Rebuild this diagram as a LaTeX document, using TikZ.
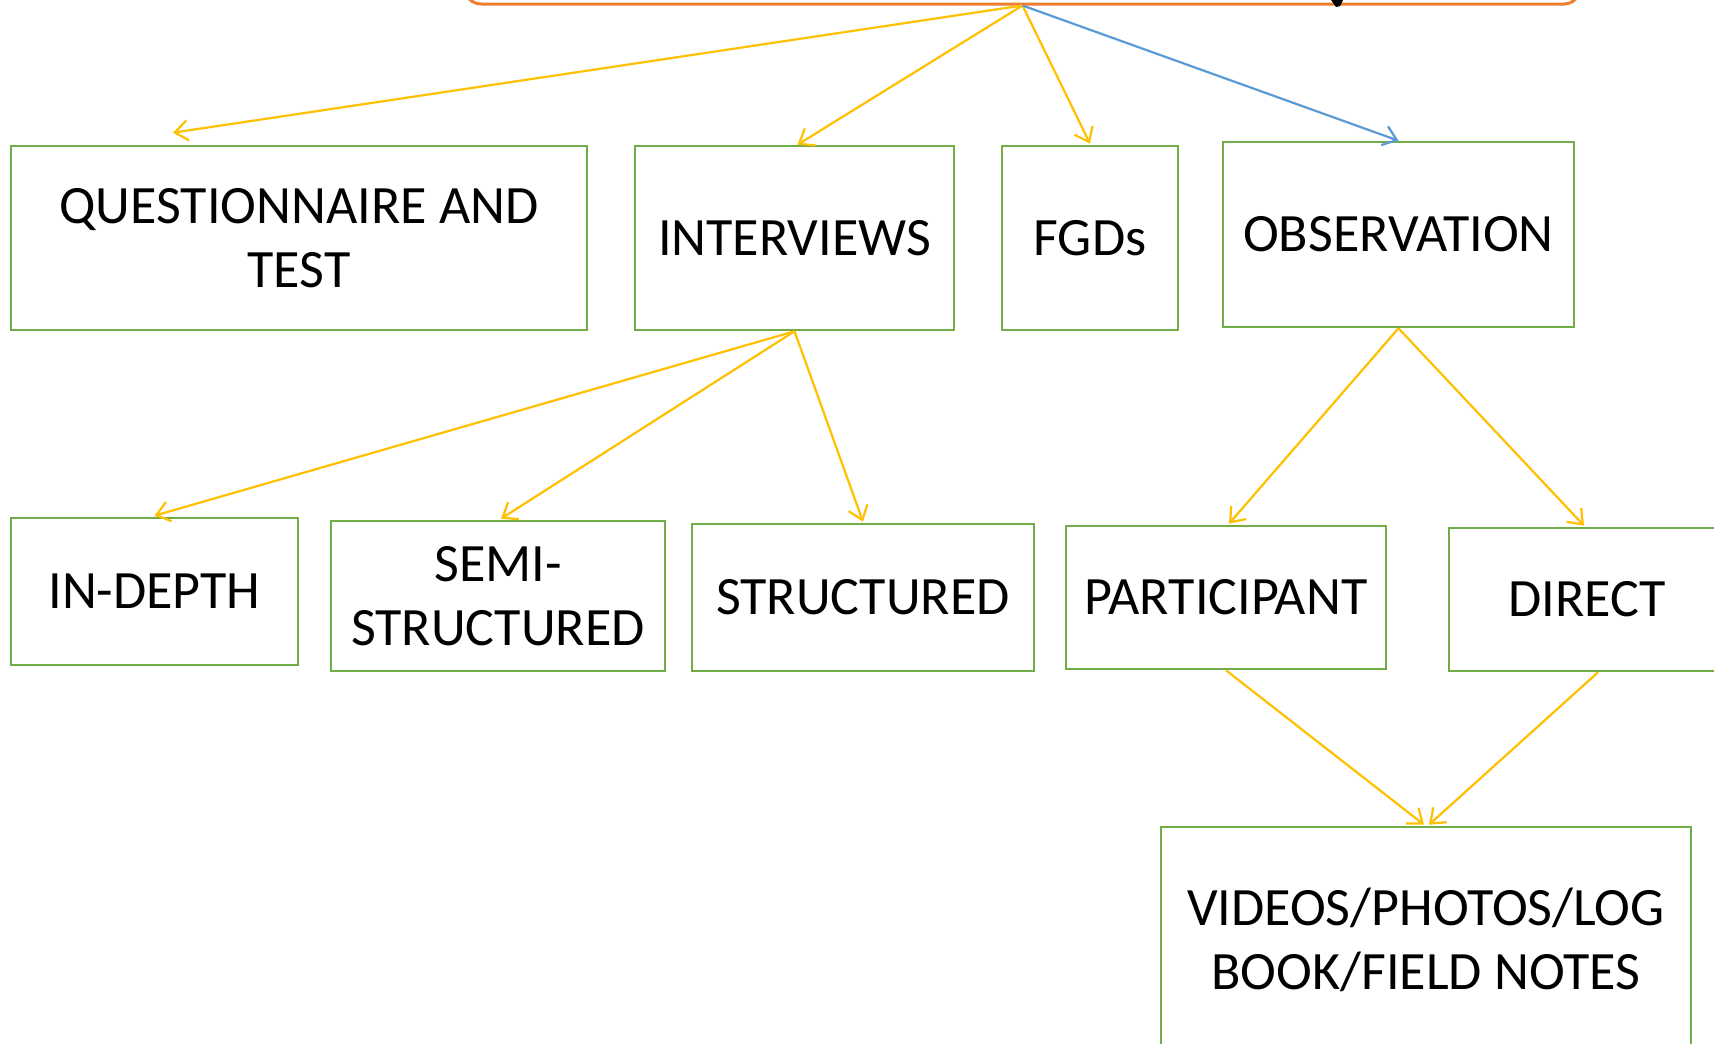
\documentclass[tikz,border=0pt]{standalone}
\usepackage{fontspec}
\setmainfont{Carlito}
\usetikzlibrary{arrows.meta,calc}
\definecolor{boxgreen}{HTML}{70AD47}
\definecolor{arrgold}{HTML}{FFC000}
\definecolor{arrblue}{HTML}{5B9BD5}
\definecolor{toporange}{HTML}{ED7D31}
\tikzset{
  box/.style={draw=boxgreen, line width=2.6pt, fill=white, inner sep=0pt, align=center,
    font=\fontsize{54}{64}\selectfont},
  goldarrow/.style={draw=arrgold, line width=2.2pt, -{Straight Barb[length=13pt,width=20pt,line width=2.2pt]}},
  bluearrow/.style={draw=arrblue, line width=2.2pt, -{Straight Barb[length=13pt,width=20pt,line width=2.2pt]}},
}
\begin{document}
\begin{tikzpicture}[x=1pt,y=-1pt]
\useasboundingbox (0,0) rectangle (1714,1044);
\clip (0,0) rectangle (1714,1044);
\fill[white] (0,0) rectangle (1714,1044);
% top box (mostly outside the picture)
\node[draw=toporange, line width=3pt, rounded corners=16pt, minimum width=1115pt, minimum height=200pt, inner sep=0pt] (top) at (1022.5,-96) {};
\fill[black] (1331,0) -- (1343,0) -- (1340,6) -- (1336,7) -- cycle;
% first row
\node[box, minimum width=576pt, minimum height=184pt] (q) at (299,238) {QUESTIONNAIRE AND\\TEST};
\node[box, minimum width=319pt, minimum height=184pt] (intv) at (794.5,238) {INTERVIEWS};
\node[box, minimum width=176pt, minimum height=184pt] (fgd) at (1090,238) {FGDs};
\node[box, minimum width=351pt, minimum height=185pt] (obs) at (1398.5,234.5) {OBSERVATION};
% second row
\node[box, minimum width=287pt, minimum height=147pt] (indepth) at (154.5,591.5) {IN-DEPTH};
\node[box, minimum width=334pt, minimum height=150pt] (semi) at (498,596) {SEMI-\\STRUCTURED};
\node[box, minimum width=342pt, minimum height=147pt] (struct) at (863,597.5) {STRUCTURED};
\node[box, minimum width=320pt, minimum height=143pt] (part) at (1226,597.5) {PARTICIPANT};
\node[box, minimum width=276pt, minimum height=143pt] (direct) at (1587,599.5) {DIRECT};
% third row
\node[box, minimum width=530pt, minimum height=226pt] (videos) at (1426,940) {VIDEOS/PHOTOS/LOG\\BOOK/FIELD NOTES};
% connectors
\draw[goldarrow] (top.south) -- ([xshift=-126pt,yshift=12pt]q.north);
\draw[goldarrow] (top.south) -- ([xshift=3pt]intv.north);
\draw[goldarrow] (top.south) -- ([yshift=1pt]fgd.north);
\draw[bluearrow] (top.south) -- (obs.north);
\draw[goldarrow] (intv.south) -- ([yshift=1pt]indepth.north);
\draw[goldarrow] (intv.south) -- ([xshift=3pt,yshift=1pt]semi.north);
\draw[goldarrow] (intv.south) -- ([yshift=1pt]struct.north);
\draw[goldarrow] (obs.south) -- ([xshift=3pt,yshift=1pt]part.north);
\draw[goldarrow] (obs.south) -- ([xshift=-3pt,yshift=1pt]direct.north);
\draw[goldarrow] (part.south) -- ([xshift=-2pt,yshift=1pt]videos.north);
\draw[goldarrow] ([xshift=11pt]direct.south) -- ([xshift=3pt,yshift=1pt]videos.north);
\end{tikzpicture}
\end{document}
